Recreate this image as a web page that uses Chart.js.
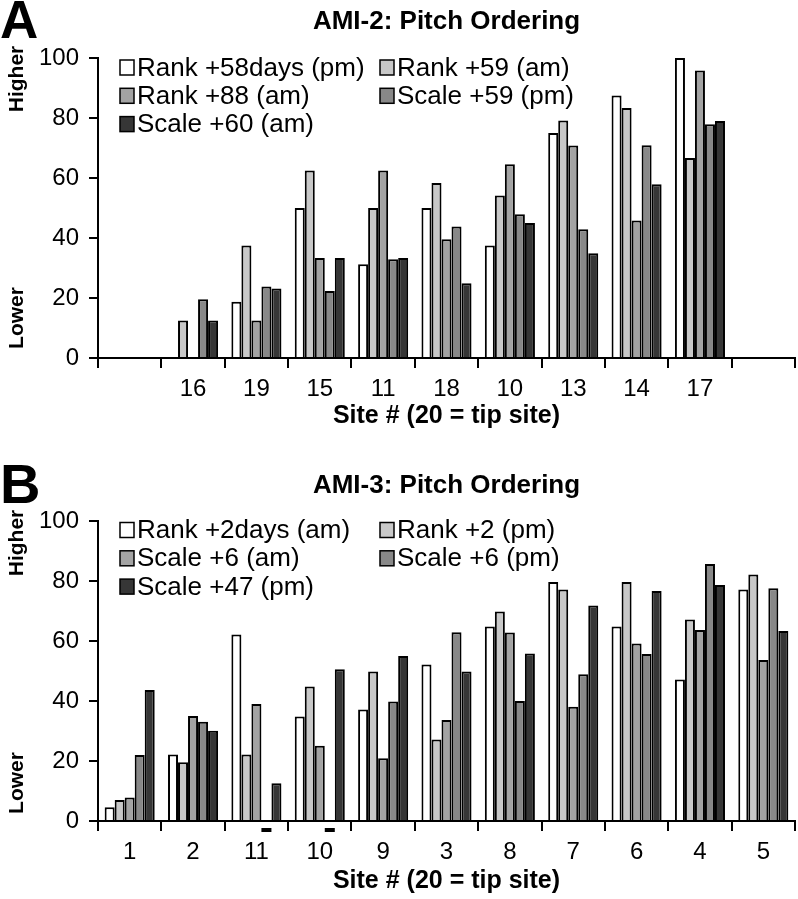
<!DOCTYPE html>
<html><head><meta charset="utf-8">
<script src="https://cdn.jsdelivr.net/npm/chart.js@4.4.1/dist/chart.umd.min.js"></script>
<style>
body{margin:0;background:#fff;}
#wrap{position:relative;width:798px;height:899px;background:#fff;}
canvas{position:absolute;left:0;}
</style>
</head><body>
<div id="wrap">
<canvas id="chartA" width="798" height="430" style="top:0"></canvas>
<canvas id="chartB" width="798" height="459" style="top:440px"></canvas>
</div>
<script>
// ---------- Panel A data ----------
const titleA = 'AMI-2: Pitch Ordering';
const sitesA = ['', '16', '19', '15', '11', '18', '10', '13', '14', '17', ''];
const seriesNamesA = ['Rank +58days (pm)', 'Rank +59 (am)', 'Rank +88 (am)', 'Scale +59 (pm)', 'Scale +60 (am)'];
const rank58pm = [null, 0, 18.75, 50, 31.25, 50, 37.5, 75, 87.5, 100, null];
const rank59am = [null, 12.5, 37.5, 62.5, 50, 58.3, 54.2, 79.2, 83.3, 66.7, null];
const rank88am = [null, 0, 12.5, 33.3, 62.5, 39.6, 64.6, 70.8, 45.8, 95.8, null];
const scale59pm = [null, 19.6, 23.8, 22.3, 32.9, 43.8, 47.9, 42.9, 70.9, 77.9, null];
const scale60am = [null, 12.5, 23.2, 33.3, 33.3, 24.9, 45.0, 34.9, 57.9, 79.0, null];

// ---------- Panel B data ----------
const titleB = 'AMI-3: Pitch Ordering';
const sitesB = ['1', '2', '11', '10', '9', '3', '8', '7', '6', '4', '5'];
const seriesNamesB = ['Rank +2days (am)', 'Rank +2 (pm)', 'Scale +6 (am)', 'Scale +6 (pm)', 'Scale +47 (pm)'];
const rank2am = [4.6, 22.2, 62.2, 34.8, 37.2, 52.2, 64.8, 79.7, 64.8, 47.2, 77.2];
const rank2pm = [7.0, 19.6, 22.2, 44.8, 49.8, 27.2, 69.8, 77.2, 79.7, 67.2, 82.2];
const scale6am = [7.8, 35.0, 39.0, 25.1, 20.9, 33.7, 62.8, 38.1, 59.2, 63.7, 53.7];
const scale6pm = [22.0, 33.1, null, null, 39.8, 62.9, 40.0, 48.9, 55.7, 85.7, 77.6];
const scale47pm = [43.7, 30.1, 12.6, 50.6, 55.0, 49.8, 55.8, 71.8, 76.7, 78.7, 63.3];

const yTicks = [0, 20, 40, 60, 80, 100];
const xAxisTitle = 'Site # (20 = tip site)';

// ---------- styling ----------
const FONT = '"Liberation Sans", Arial, Helvetica, sans-serif';
const fills = ['#ffffff', '#c8c8c8', '#a3a3a3', '#888888', '#363636'];

const extras = {
  id: 'extras',
  afterDraw(chart, args, opts) {
    const ctx = chart.ctx;
    const ca = chart.chartArea;
    ctx.save();
    ctx.fillStyle = '#000';
    // panel letter
    ctx.font = 'bold ' + opts.letterSize + 'px ' + FONT;
    ctx.textAlign = 'left';
    ctx.textBaseline = 'alphabetic';
    ctx.fillText(opts.letter, opts.letterX, opts.letterBaseline);
    // Higher / Lower
    ctx.font = 'bold 21px ' + FONT;
    ctx.textAlign = 'center';
    ctx.textBaseline = 'middle';
    [['Higher', ca.top + opts.higherOffset], ['Lower', ca.bottom - opts.lowerOffset]].forEach(([t, y]) => {
      ctx.save();
      ctx.translate(17, y);
      ctx.rotate(-Math.PI / 2);
      ctx.fillText(t, 0, 0);
      ctx.restore();
    });
    // legend
    ctx.font = '26px ' + FONT;
    ctx.textAlign = 'left';
    ctx.textBaseline = 'middle';
    chart.data.datasets.forEach((ds, i) => {
      const col = i % 2, row = Math.floor(i / 2);
      const bx = ca.left + (col === 0 ? 22 : 282);
      const cy = ca.top + opts.legendTop + row * 28.3;
      ctx.fillStyle = ds.backgroundColor;
      ctx.fillRect(bx, cy - 7.5, 14, 15);
      ctx.lineWidth = 1.5;
      ctx.strokeStyle = '#000';
      ctx.strokeRect(bx, cy - 7.5, 14, 15);
      ctx.fillStyle = '#000';
      ctx.fillText(ds.label, bx + 17, cy + 1);
    });
    // missing-session markers
    chart.data.datasets.forEach((ds, i) => {
      if (!ds.markMissing) return;
      const meta = chart.getDatasetMeta(i);
      ds.data.forEach((v, j) => {
        if (v === null && chart.data.labels[j] !== '') {
          const el = meta.data[j];
          ctx.fillStyle = '#000';
          ctx.fillRect(el.x - el.width / 2, ca.bottom + 7, el.width, 4);
        }
      });
    });
    ctx.restore();
  }
};

function makeChart(id, labels, names, series, cfg) {
  const datasets = series.map((d, i) => ({
    label: names[i],
    data: d,
    backgroundColor: fills[i],
    borderColor: '#000',
    borderWidth: 2,
    borderSkipped: 'bottom',
    categoryPercentage: 0.79,
    barPercentage: 1.0,
    markMissing: cfg.missingIndex === i
  }));
  return new Chart(document.getElementById(id), {
    type: 'bar',
    data: { labels: labels, datasets: datasets },
    plugins: [extras],
    options: {
      responsive: false,
      animation: false,
      devicePixelRatio: 1,
      layout: { padding: { left: 0, right: 3, top: 0, bottom: 0 } },
      plugins: {
        legend: { display: false },
        tooltip: { enabled: false },
        title: {
          display: true,
          text: cfg.title,
          fullSize: false,
          color: '#000',
          font: { family: FONT, size: 26, weight: 'bold', lineHeight: 1.2 },
          padding: { top: cfg.titleTop, bottom: cfg.titleBottom }
        },
        extras: cfg.extras
      },
      scales: {
        x: {
          offset: true,
          afterFit(scale) { scale.height = cfg.xHeight; },
          grid: { offset: true, drawOnChartArea: false, drawTicks: true, tickLength: 10, color: '#000', lineWidth: 2 },
          border: { display: true, color: '#000', width: 2 },
          ticks: { color: '#000', font: { family: FONT, size: 24 }, padding: 7, maxRotation: 0, autoSkip: false },
          title: {
            display: true, text: xAxisTitle, color: '#000',
            font: { family: FONT, size: 25, weight: 'bold', lineHeight: 1 },
            padding: { top: 0, bottom: cfg.xTitleBottom }
          }
        },
        y: {
          min: 0, max: 100,
          afterFit(scale) { scale.width = 98; },
          afterBuildTicks(scale) { scale.ticks = yTicks.map(v => ({ value: v })); },
          grid: { drawOnChartArea: false, drawTicks: true, tickLength: 9, color: '#000', lineWidth: 2 },
          border: { display: true, color: '#000', width: 2 },
          ticks: { color: '#000', font: { family: FONT, size: 24 }, padding: 10 }
        }
      }
    }
  });
}

makeChart('chartA', sitesA, seriesNamesA, [rank58pm, rank59am, rank88am, scale59pm, scale60am], {
  title: titleA, titleTop: 6.4, titleBottom: 20.4, xHeight: 72, xTitleBottom: 1, missingIndex: -1,
  extras: { letter: 'A', letterSize: 53, letterX: 0, letterBaseline: 38, higherOffset: 21, lowerOffset: 40, legendTop: 9.5 }
});
makeChart('chartB', sitesB, seriesNamesB, [rank2am, rank2pm, scale6am, scale6pm, scale47pm], {
  title: titleB, titleTop: 30.4, titleBottom: 19.4, xHeight: 78, xTitleBottom: 5, missingIndex: 3,
  extras: { letter: 'B', letterSize: 56, letterX: 0, letterBaseline: 63, higherOffset: 22, lowerOffset: 38, legendTop: 9 }
});
</script>
</body></html>
